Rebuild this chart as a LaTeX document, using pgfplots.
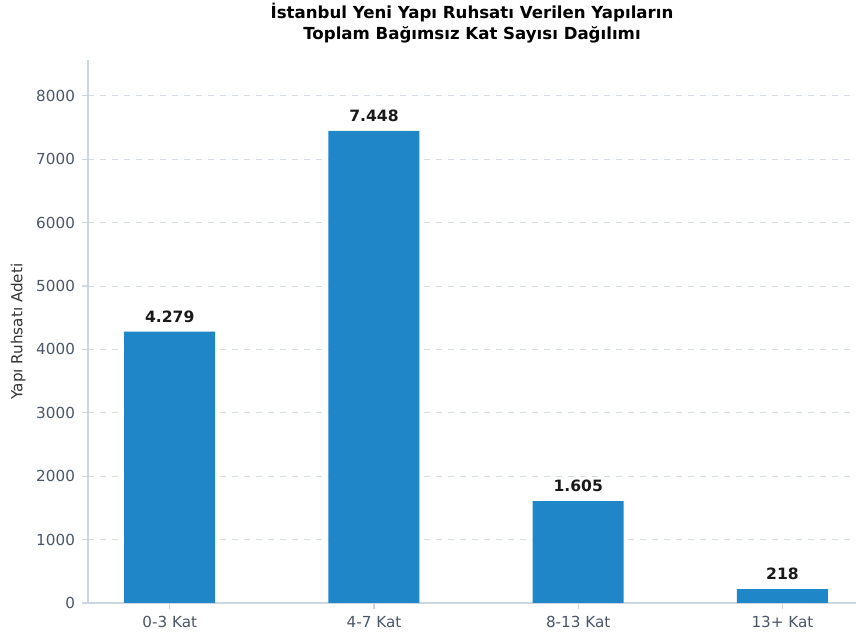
\documentclass[border=0pt]{standalone}
\usepackage{pgfplots}
\pgfplotsset{compat=1.18}
\usepackage{fontspec}
\setmainfont{DejaVu Sans}
\definecolor{barblue}{HTML}{1F86C8}
\definecolor{tickcol}{HTML}{4A5568}
\definecolor{spinecol}{HTML}{CDD5DE}
\definecolor{gridcol}{HTML}{D5DBE2}
\begin{document}
\begin{tikzpicture}[x=0.5pt,y=0.5pt]
\begin{axis}[
  at={(0,0)}, anchor=south west,
  scale only axis,
  width=384pt, height=271.5pt,
  xmin=-0.40, xmax=3.36,
  ymin=0, ymax=8565,
  ybar, bar width=45.5pt,
  xtick={0,1,2,3},
  xticklabels={0-3 Kat,4-7 Kat,8-13 Kat,13+ Kat},
  ytick={0,1000,...,8000},
  axis x line*=bottom, axis y line*=left,
  axis line style={spinecol, line width=0.6pt},
  tick style={spinecol, line width=0.6pt},
  tick align=outside,
  major tick length=3pt,
  ymajorgrids,
  grid style={gridcol, dashed, line width=0.5pt},
  ticklabel style={font=\fontsize{7.6}{8}\selectfont, text=tickcol},
  /pgf/number format/assume math mode=true,
  scaled y ticks=false,
  yticklabel style={/pgf/number format/set thousands separator={}},
  ylabel={Yapı Ruhsatı Adeti},
  ylabel style={font=\fontsize{7.6}{8}\selectfont, text=black!80, yshift=-1.5pt},
  title={\textbf{İstanbul Yeni Yapı Ruhsatı Verilen Yapıların}\\\textbf{Toplam Bağımsız Kat Sayısı Dağılımı}},
  title style={font=\fontsize{8.3}{10.5}\selectfont, align=center, yshift=-1pt},
  nodes near coords,
  point meta=explicit symbolic,
  nodes near coords style={font=\fontsize{7.8}{8}\bfseries\selectfont, text=black!90, yshift=1pt},
  enlarge x limits=false,
  clip=false,
]
\addplot[fill=barblue, draw=none] coordinates {
  (0,4279) [4.279]
  (1,7448) [7.448]
  (2,1605) [1.605]
  (3,218) [218]
};
\end{axis}
\pgfresetboundingbox
\path (-88,-33) rectangle (768,603);
\end{tikzpicture}
\end{document}
